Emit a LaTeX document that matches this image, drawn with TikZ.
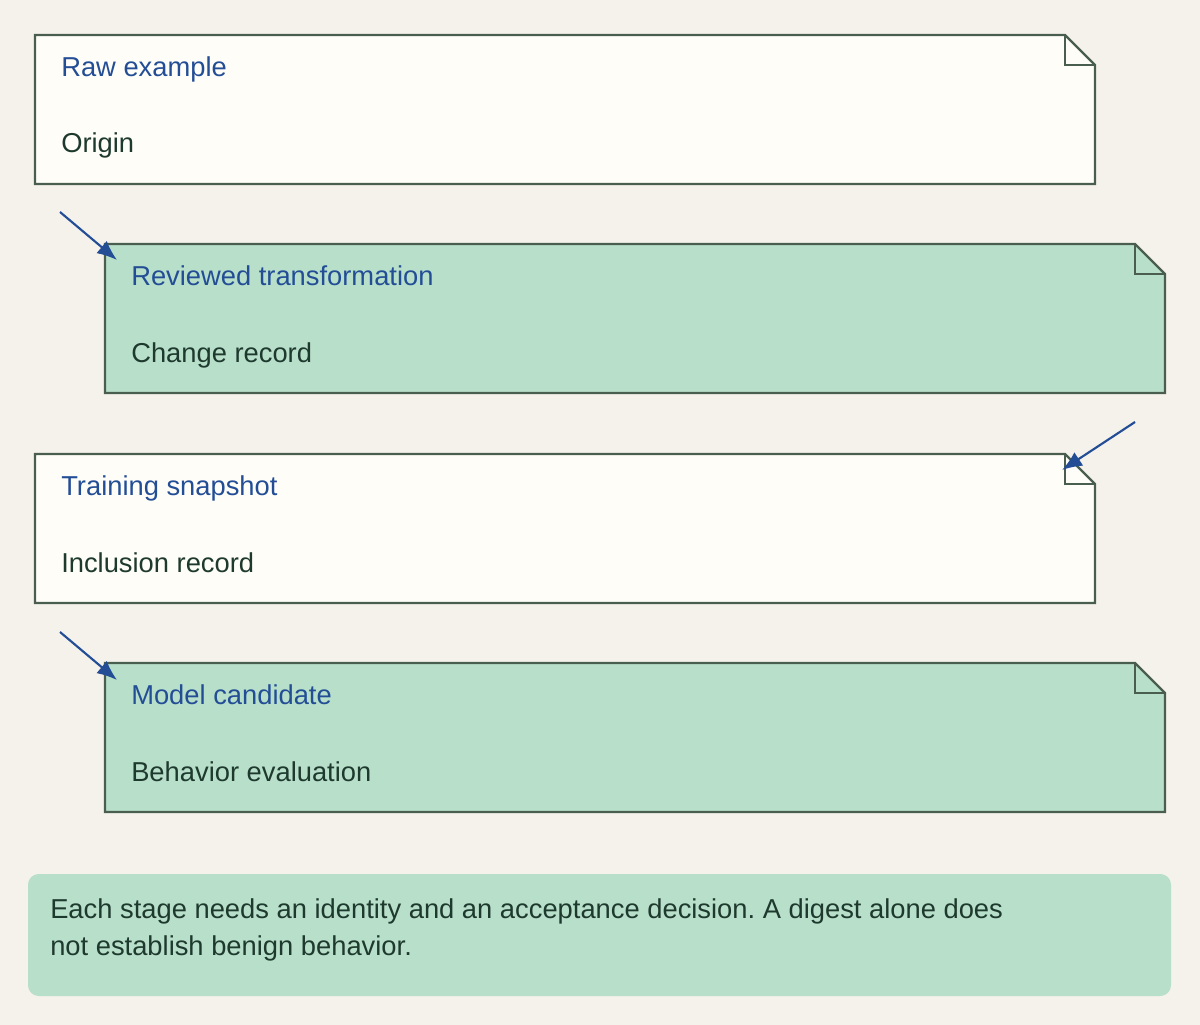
\documentclass[tikz,border=0pt]{standalone}
\usepackage{fontspec}
\setmainfont{Liberation Sans}
\usetikzlibrary{arrows.meta}
\definecolor{bg}{HTML}{F5F2EC}
\definecolor{paper}{HTML}{FFFDF8}
\definecolor{mint}{HTML}{B8DFCA}
\definecolor{edge}{HTML}{4A5E50}
\definecolor{ink}{HTML}{1E3A2E}
\definecolor{blu}{HTML}{234E96}
\begin{document}
\frenchspacing
\begin{tikzpicture}[x=0.75pt,y=-0.75pt,
  doc/.style={draw=edge,line width=1.6pt},
  ttl/.style={anchor=base west,text=blu,font=\fontsize{20.5}{24}\selectfont,inner sep=0},
  sub/.style={anchor=base west,text=ink,font=\fontsize{20.5}{24}\selectfont,inner sep=0},
  arr/.style={draw=blu,line width=1.6pt,-{Latex[length=15pt,width=12pt]}}]
\fill[bg] (0,0) rectangle (1200,1025);
\useasboundingbox (0,0) rectangle (1200,1025);
\newcommand{\docbox}[3]{%
  \filldraw[doc,fill=#3] (#1,#2) -- ++(1030,0) -- ++(30,30) -- ++(0,119) -- ++(-1060,0) -- cycle;
  \draw[doc] (#1+1030,#2) -- ++(0,30) -- ++(30,0);}
\docbox{35}{35}{paper}
\docbox{105}{244}{mint}
\docbox{35}{454}{paper}
\docbox{105}{663}{mint}
\node[ttl] (t1) at (61,76) {Raw example};
\node[sub] (s1) at (61,152) {Origin};
\node[ttl] (t2) at (131,285) {Reviewed transformation};
\node[sub] (s2) at (131,362) {Change record};
\node[ttl] (t3) at (61,495) {Training snapshot};
\node[sub] (s3) at (61,572) {Inclusion record};
\node[ttl] (t4) at (131,704) {Model candidate};
\node[sub] (s4) at (131,781) {Behavior evaluation};
\coordinate (a1s) at (60,212); \coordinate (a1e) at (117,260);
\coordinate (a2s) at (1135,422); \coordinate (a2e) at (1062,470);
\coordinate (a3s) at (60,632); \coordinate (a3e) at (117,680);
\draw[arr] (a1s) -- (a1e);
\draw[arr] (a2s) -- (a2e);
\draw[arr] (a3s) -- (a3e);
\fill[mint,rounded corners=8pt] (28,874) rectangle (1171,996);
\node[sub] (n1) at (50,918) {Each stage needs an identity and an acceptance decision. A digest alone does};
\node[sub] (n2) at (50,955) {not establish benign behavior.};
\end{tikzpicture}
\end{document}
